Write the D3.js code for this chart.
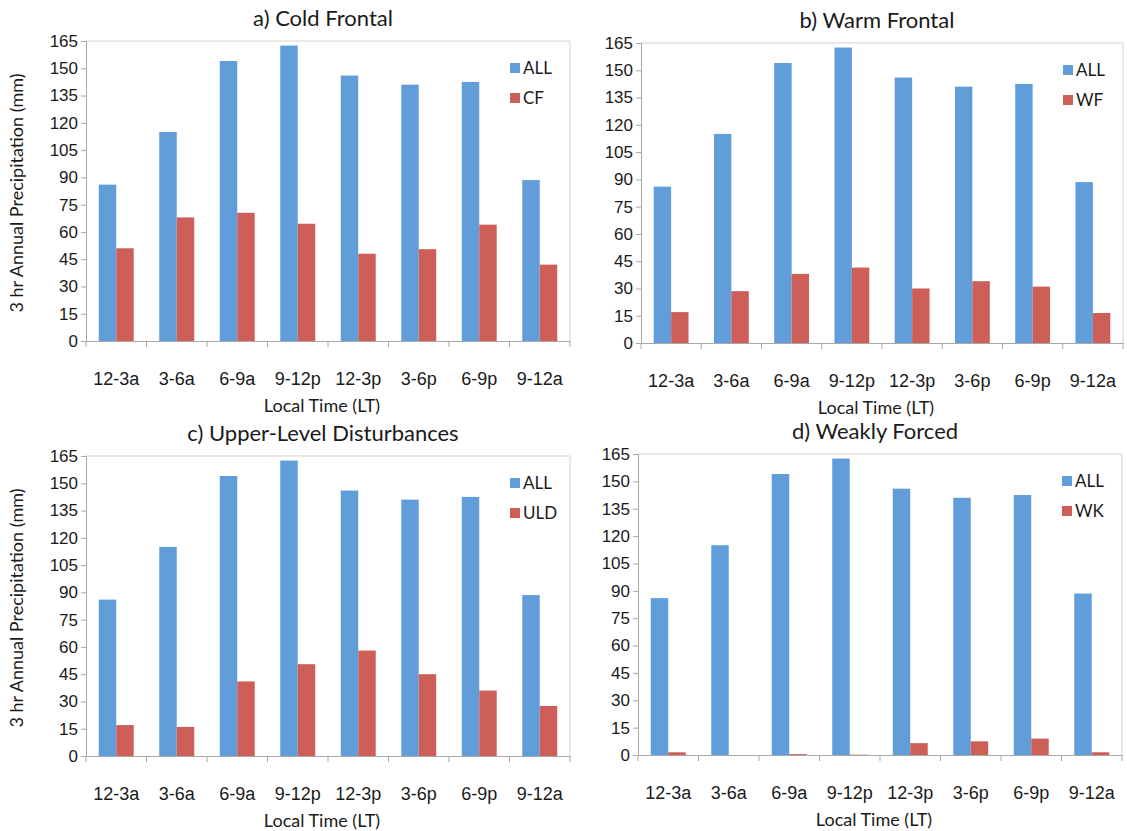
<!DOCTYPE html>
<html lang="en">
<head>
  <meta charset="UTF-8">
  <style>
    body { margin: 0; background: #fff; }
    svg { font-family: Lato, "Open Sans", sans-serif; }
    .title { font-size: 22px; fill: #1a1a1a; text-anchor: middle; }
    .tick text { fill: #1a1a1a; }
    .y-axis .tick text { font-size: 17px; }
    .x-axis .tick text { font-size: 18px; }
    .axis-label { font-size: 18px; fill: #1a1a1a; text-anchor: middle; }
    .legend text { font-size: 17px; fill: #1a1a1a; }
  </style>
  <script src="https://d3js.org/d3.v7.min.js"></script>
</head>
<body>
  <svg id="chart" width="1127" height="831"></svg>

  <script>
    // categories (3 hour local time bins)
    const times = ["12-3a", "3-6a", "6-9a", "9-12p", "12-3p", "3-6p", "6-9p", "9-12a"];
    const yTicks = [0, 15, 30, 45, 60, 75, 90, 105, 120, 135, 150, 165];

    // total precipitation, same in every panel
    const allPrecip = [86, 115, 154, 162.5, 146, 141, 142.5, 88.5];
    // per regime
    const cfPrecip  = [51, 68, 70.5, 64.5, 48, 50.5, 64, 42];
    const wfPrecip  = [17, 28.5, 38, 41.5, 30, 34, 31, 16.5];
    const uldPrecip = [17, 16, 41, 50.5, 58, 45, 36, 27.5];
    const wkPrecip  = [1.5, 0, 0.5, 0.2, 6.5, 7.5, 9, 1.5];

    const titles = ["a) Cold Frontal", "b) Warm Frontal", "c) Upper-Level Disturbances", "d) Weakly Forced"];
    const regimeNames = ["CF", "WF", "ULD", "WK"];
    const regimeValues = [cfPrecip, wfPrecip, uldPrecip, wkPrecip];

    const colors = { ALL: "#619dd9", other: "#cd5f58" };

    // plot-area boxes for the 4 panels
    const panels = [
      { left: 86,  top: 41,  w: 484, h: 300, ylab: true },
      { left: 641, top: 43,  w: 482, h: 300, ylab: false },
      { left: 86,  top: 456, w: 484, h: 300, ylab: true },
      { left: 638, top: 454, w: 484, h: 301, ylab: false }
    ];

    const svg = d3.select("#chart");

    panels.forEach((p, k) => {
      const g = svg.append("g").attr("transform", `translate(${p.left},${p.top})`);

      const x0 = d3.scaleBand().domain(times).range([0, p.w]);
      const series = ["ALL", regimeNames[k]];
      const x1 = d3.scaleBand().domain(series).range([0, x0.bandwidth()]).paddingOuter(0.73);
      const y = d3.scaleLinear().domain([0, 165]).range([p.h, 0]);

      // light border on top and right
      g.append("path")
        .attr("d", `M0,0H${p.w}V${p.h}`)
        .attr("fill", "none")
        .attr("stroke", "#d4d4d4");

      // bars
      const cat = g.selectAll(".cat")
        .data(times)
        .enter()
        .append("g")
        .attr("transform", d => `translate(${x0(d)},0)`);

      cat.selectAll("rect")
        .data((d, i) => [
          { s: "ALL", v: allPrecip[i] },
          { s: regimeNames[k], v: regimeValues[k][i] }
        ])
        .enter()
        .append("rect")
        .attr("x", d => x1(d.s))
        .attr("width", x1.bandwidth())
        .attr("y", d => y(d.v))
        .attr("height", d => p.h - y(d.v))
        .attr("fill", d => d.s === "ALL" ? colors.ALL : colors.other);

      // y axis
      const yAxis = g.append("g")
        .attr("class", "y-axis")
        .call(d3.axisLeft(y).tickValues(yTicks).tickSize(5).tickPadding(3));
      yAxis.selectAll("line, path").attr("stroke", "#a8a8a8");

      // x axis: ticks at category boundaries
      const xAxis = g.append("g")
        .attr("class", "x-axis")
        .attr("transform", `translate(0,${p.h})`)
        .call(d3.axisBottom(x0).tickSize(0));
      xAxis.select(".domain").attr("stroke", "#a8a8a8");
      xAxis.selectAll(".bound")
        .data(d3.range(times.length + 1))
        .enter()
        .append("line")
        .attr("x1", i => i * x0.step())
        .attr("x2", i => i * x0.step())
        .attr("y1", 0)
        .attr("y2", 6)
        .attr("stroke", "#a8a8a8");
      xAxis.selectAll(".tick text").attr("dy", "0.35em").attr("y", 38);

      // titles
      g.append("text")
        .attr("class", "title")
        .attr("x", p.w / 2 - 5)
        .attr("y", -15)
        .text(titles[k]);

      g.append("text")
        .attr("class", "axis-label")
        .attr("x", p.w / 2 - 6)
        .attr("y", p.h + 71)
        .text("Local Time (LT)");

      if (p.ylab) {
        g.append("text")
          .attr("class", "axis-label")
          .attr("transform", `translate(${-63},${p.h / 2 + 2}) rotate(-90)`)
          .text("3 hr Annual Precipitation (mm)");
      }

      // legend
      const leg = g.append("g").attr("class", "legend")
        .attr("transform", `translate(${p.w - 60},0)`);
      series.forEach((s, i) => {
        leg.append("rect")
          .attr("x", 0)
          .attr("y", 22 + i * 30)
          .attr("width", 10)
          .attr("height", 10)
          .attr("fill", i === 0 ? colors.ALL : colors.other);
        leg.append("text")
          .attr("x", 13)
          .attr("y", 27 + i * 30)
          .attr("dy", "0.35em")
          .text(s);
      });
    });
  </script>
</body>
</html>
